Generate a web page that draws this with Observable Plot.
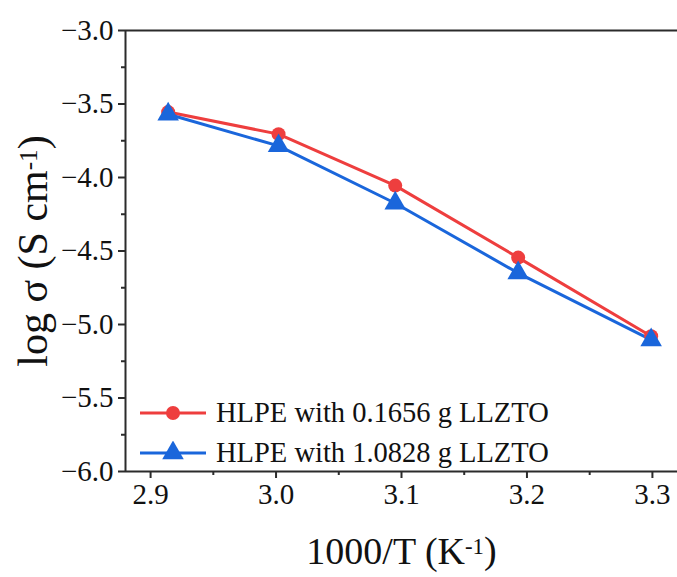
<!DOCTYPE html>
<html>
<head>
<meta charset="utf-8">
<script src="https://cdn.jsdelivr.net/npm/d3@7"></script>
<script src="https://cdn.jsdelivr.net/npm/@observablehq/plot@0.6"></script>
<style>
  html, body { margin: 0; padding: 0; background: #fff; }
  #wrap { position: relative; width: 677px; height: 577px; overflow: hidden; font-family: "Liberation Serif", "Times New Roman", serif; }
  #wrap svg text { font-family: "Liberation Serif", "Times New Roman", serif; }
  #legend { position: absolute; left: 138px; top: 393px; font-size: 28.5px; color: #111; font-family: "Liberation Serif", "Times New Roman", serif; }
  #legend .row { display: flex; align-items: center; height: 40px; white-space: nowrap; }
  #legend svg { margin-right: 8px; }
</style>
</head>
<body>
<div id="wrap"></div>
<script>
// ---- data ----
const invT = [2.914, 3.002, 3.095, 3.193, 3.299];           // 1000/T (K^-1)
const sigmaLow = [-3.555, -3.705, -4.055, -4.545, -5.080];  // HLPE with 0.1656 g LLZTO
const sigmaHigh = [-3.570, -3.785, -4.175, -4.650, -5.105]; // HLPE with 1.0828 g LLZTO
const seriesNames = ["HLPE with 0.1656 g LLZTO", "HLPE with 1.0828 g LLZTO"];
const seriesColors = ["#ee3e3e", "#1a66db"];
const xTicks = [2.9, 3.0, 3.1, 3.2, 3.3];
const xMinorTicks = [2.95, 3.05, 3.15, 3.25];
const yTicks = [-6.0, -5.5, -5.0, -4.5, -4.0, -3.5, -3.0];
const yMinorTicks = [-5.75, -5.25, -4.75, -4.25, -3.75, -3.25];
const xDomain = [2.88, 3.32];
const yDomain = [-6, -3];

const rows = [];
invT.forEach((x, i) => rows.push({x, y: sigmaLow[i], s: seriesNames[0]}));
invT.forEach((x, i) => rows.push({x, y: sigmaHigh[i], s: seriesNames[1]}));
const low = rows.filter(d => d.s === seriesNames[0]);
const high = rows.filter(d => d.s === seriesNames[1]);

const axisColor = "#2b2b2b";
const serif = "'Liberation Serif', 'Times New Roman', serif";
const fmt = d3.format(".1f");

const chart = Plot.plot({
  width: 677,
  height: 577,
  marginLeft: 125,
  marginRight: 0,
  marginTop: 30,
  marginBottom: 106,
  style: {fontFamily: serif, background: "#fff", color: "#111"},
  x: {domain: xDomain, label: null},
  y: {domain: yDomain, label: null},
  marks: [
    // frame lines (top, left, bottom)
    Plot.ruleY([yDomain[1]], {stroke: axisColor, strokeWidth: 2}),
    Plot.ruleY([yDomain[0]], {stroke: axisColor, strokeWidth: 2}),
    Plot.ruleX([xDomain[0]], {stroke: axisColor, strokeWidth: 2}),
    Plot.axisX({ticks: xTicks, tickFormat: fmt, tickSize: 7, tickPadding: 5, fontSize: 29, fontFamily: serif, stroke: axisColor, strokeWidth: 2, color: "#111",
      label: "1000/T (K-1)", labelAnchor: "center", labelArrow: "none", labelOffset: 92}),
    Plot.axisX({ticks: xMinorTicks, tickFormat: () => "", tickSize: 4, stroke: axisColor, strokeWidth: 2, label: null}),
    Plot.axisY({ticks: yTicks, tickFormat: fmt, tickSize: 7, tickPadding: 5, fontSize: 29, fontFamily: serif, stroke: axisColor, strokeWidth: 2, color: "#111",
      label: "log σ (S cm-1)", labelAnchor: "center", labelArrow: "none", labelOffset: 108}),
    Plot.axisY({ticks: yMinorTicks, tickFormat: () => "", tickSize: 4, stroke: axisColor, strokeWidth: 2, label: null}),
    Plot.line(low, {x: "x", y: "y", stroke: seriesColors[0], strokeWidth: 3}),
    Plot.line(high, {x: "x", y: "y", stroke: seriesColors[1], strokeWidth: 3}),
    Plot.dot(low, {x: "x", y: "y", fill: seriesColors[0], r: 7, symbol: "circle", stroke: null}),
    Plot.dot(high, {x: "x", y: "y", fill: seriesColors[1], r: 8, symbol: "triangle", stroke: null})
  ]
});

// superscripts in axis labels
function supLabel(sel, before, sup, after, size) {
  const g = chart.querySelector(sel);
  if (!g) return;
  const t = g.querySelector("text");
  if (!t) return;
  t.setAttribute("font-size", size);
  t.setAttribute("font-family", serif);
  t.textContent = "";
  const ns = "http://www.w3.org/2000/svg";
  const a = document.createElementNS(ns, "tspan"); a.textContent = before; t.appendChild(a);
  const b = document.createElementNS(ns, "tspan"); b.textContent = sup; b.setAttribute("dy", "-0.42em"); b.setAttribute("font-size", "0.6em"); t.appendChild(b);
  const c = document.createElementNS(ns, "tspan"); c.textContent = after; c.setAttribute("dy", "0.25em"); t.appendChild(c);
}
supLabel('g[aria-label="x-axis label"]', "1000/T (K", "-1", ")", 38);
supLabel('g[aria-label="y-axis label"]', "log σ (S cm", "-1", ")", 42);

const wrap = document.getElementById("wrap");
wrap.appendChild(chart);

// legend
const legend = document.createElement("div");
legend.id = "legend";
seriesNames.forEach((name, i) => {
  const row = document.createElement("div");
  row.className = "row";
  const sw = d3.create("svg").attr("width", 70).attr("height", 24);
  sw.append("line").attr("x1", 2).attr("x2", 68).attr("y1", 12).attr("y2", 12).attr("stroke", seriesColors[i]).attr("stroke-width", 3);
  sw.append("path").attr("transform", "translate(35,12)").attr("fill", seriesColors[i])
    .attr("d", d3.symbol(i === 0 ? d3.symbolCircle : d3.symbolTriangle, i === 0 ? Math.PI * 49 : Math.PI * 64)());
  row.appendChild(sw.node());
  const span = document.createElement("span");
  span.textContent = name;
  row.appendChild(span);
  legend.appendChild(row);
});
wrap.appendChild(legend);
</script>
</body>
</html>
